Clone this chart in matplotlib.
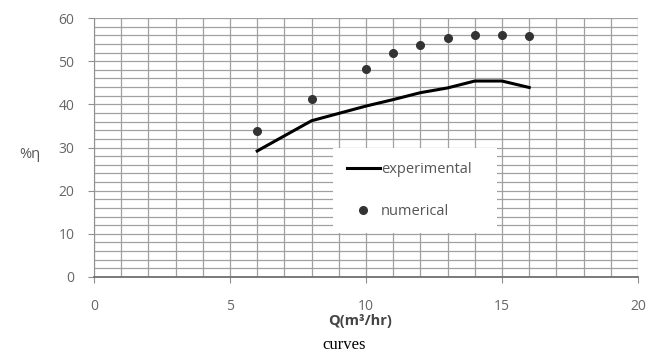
import matplotlib
matplotlib.use("Agg")
import matplotlib.pyplot as plt
from matplotlib.ticker import MultipleLocator

q_exp = [6, 8, 10, 11, 12, 13, 14, 15, 16]
eff_exp = [29.2, 36.2, 39.6, 41.1, 42.7, 43.8, 45.4, 45.4, 43.9]
q_num = [6, 8, 10, 11, 12, 13, 14, 15, 16]
eff_num = [33.8, 41.2, 48.1, 52.0, 53.7, 55.4, 56.0, 56.0, 55.8]

fig = plt.figure(figsize=(6.52, 3.54), dpi=100)
ax = fig.add_axes([94 / 652, 1 - 277 / 354, 544 / 652, 259 / 354])

ax.set_xlim(0, 20)
ax.set_ylim(0, 60)
ax.xaxis.set_major_locator(MultipleLocator(5))
ax.xaxis.set_minor_locator(MultipleLocator(1))
ax.yaxis.set_major_locator(MultipleLocator(10))
ax.yaxis.set_minor_locator(MultipleLocator(2))
ax.grid(True, which='both', color='#a0a0a0', linewidth=0.9)
ax.set_axisbelow(True)

for s in ['top', 'right']:
    ax.spines[s].set_visible(False)
ax.spines['left'].set_color('#909090')
ax.spines['bottom'].set_color('#707070')
ax.spines['bottom'].set_linewidth(1.3)
ax.tick_params(which='major', length=4, color='#909090', labelcolor='#666666',
               labelsize=10)
ax.tick_params(which='minor', length=0)
ax.tick_params(axis='x', pad=12)
ax.tick_params(axis='y', pad=10)
for lab in ax.get_xticklabels() + ax.get_yticklabels():
    lab.set_fontfamily('Open Sans')

ax.plot(q_exp, eff_exp, color='black', linewidth=2.2, label='experimental')
ax.plot(q_num, eff_num, linestyle='none', marker='o', markersize=5.5,
        color='#333333', label='numerical')

leg = ax.legend(loc='upper left', bbox_to_anchor=(0.439, 0.181, 0.302, 0.317),
                frameon=True, fancybox=False, framealpha=1,
                edgecolor='white', facecolor='white', borderpad=0.95,
                labelspacing=1.85, handlelength=2.3, handletextpad=0.05,
                borderaxespad=0.0, mode='expand',
                prop={'family': 'Open Sans', 'size': 10.5})
leg.get_frame().set_linewidth(0)
for t in leg.get_texts():
    t.set_color('#555555')

fig.text(30 / 652, 1 - 154 / 354, '%η', fontsize=10.5, color='#555555',
         family='Open Sans', ha='center', va='center')
fig.text(360 / 652, 1 - 321 / 354, 'Q(m³/hr)', fontsize=10.5, color='#444444',
         family='Open Sans', fontweight='bold', ha='center', va='center')
fig.text(344 / 652, 1 - 345 / 354, 'curves', fontsize=12, color='black',
         family='Liberation Serif', ha='center', va='center')

fig.savefig('out.png', dpi=100)
